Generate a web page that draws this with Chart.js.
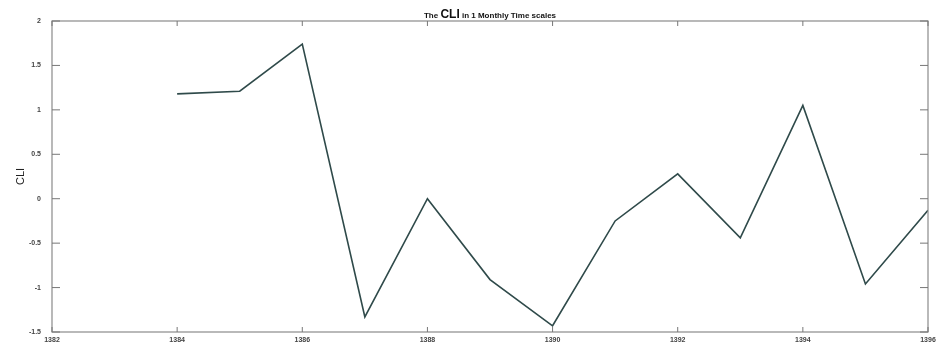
<!DOCTYPE html>
<html>
<head>
<meta charset="utf-8">
<script src="https://cdn.jsdelivr.net/npm/chart.js@4"></script>
<style>
  html, body { margin: 0; padding: 0; background: #fff; }
  #wrap { width: 941px; height: 345px; }
</style>
</head>
<body>
<div id="wrap"><canvas id="cliChart" width="941" height="345"></canvas></div>
<script>
// values
const years = [1384, 1385, 1386, 1387, 1388, 1389, 1390, 1391, 1392, 1393, 1394, 1395, 1396];
const cli = [1.18, 1.21, 1.74, -1.33, 0.0, -0.91, -1.43, -0.25, 0.28, -0.44, 1.05, -0.96, -0.13];
const xTicks = [1382, 1384, 1386, 1388, 1390, 1392, 1394, 1396];
const yTicks = [-1.5, -1, -0.5, 0, 0.5, 1, 1.5, 2];

const points = years.map(function (y, i) { return { x: y, y: cli[i] }; });

// matlab style box + inward ticks + mixed size title
const boxPlugin = {
    id: 'boxPlugin',
    afterDraw: function (chart) {
        const c = chart.ctx;
        const a = chart.chartArea;
        const xs = chart.scales.x, ys = chart.scales.y;
        c.save();
        c.strokeStyle = '#8a8a8a';
        c.lineWidth = 1.2;
        c.strokeRect(a.left, a.top, a.right - a.left, a.bottom - a.top);
        c.lineWidth = 1;
        c.strokeStyle = '#777';
        xTicks.forEach(function (t) {
            const px = xs.getPixelForValue(t);
            c.beginPath();
            c.moveTo(px, a.bottom); c.lineTo(px, a.bottom - 5);
            c.moveTo(px, a.top); c.lineTo(px, a.top + 5);
            c.stroke();
        });
        yTicks.forEach(function (t) {
            const py = ys.getPixelForValue(t);
            c.beginPath();
            c.moveTo(a.left, py); c.lineTo(a.left + 8, py);
            c.moveTo(a.right, py); c.lineTo(a.right - 8, py);
            c.stroke();
        });
        // title
        const parts = [
            { t: 'The ', f: 'bold 8px "Liberation Sans", Arial, sans-serif' },
            { t: 'CLI', f: 'bold 12px "Liberation Sans", Arial, sans-serif' },
            { t: ' in 1 Monthly Time scales', f: 'bold 8px "Liberation Sans", Arial, sans-serif' }
        ];
        let total = 0;
        parts.forEach(function (p) { c.font = p.f; p.w = c.measureText(p.t).width; total += p.w; });
        let x = (a.left + a.right) / 2 - total / 2;
        c.fillStyle = '#111';
        c.textBaseline = 'alphabetic';
        parts.forEach(function (p) { c.font = p.f; c.fillText(p.t, x, 18); x += p.w; });
        c.restore();
    }
};

const ctx = document.getElementById('cliChart').getContext('2d');
const cliChart = new Chart(ctx, {
    type: 'line',
    data: {
        datasets: [{
            label: 'CLI',
            data: points,
            borderColor: '#2f4a4a',
            borderWidth: 1.6,
            pointRadius: 0,
            fill: false,
            tension: 0
        }]
    },
    options: {
        responsive: false,
        animation: false,
        layout: { padding: { top: 21, right: 13, left: 14, bottom: 0 } },
        scales: {
            x: {
                type: 'linear',
                min: 1382,
                max: 1396,
                afterBuildTicks: function (s) { s.ticks = xTicks.map(function (v) { return { value: v }; }); },
                afterFit: function (s) { s.height = 13; s.paddingBottom = 0; },
                grid: { display: false, drawTicks: false },
                border: { display: false },
                ticks: {
                    padding: 4,
                    color: '#444',
                    font: { size: 7, family: '"Liberation Sans", Arial, sans-serif', weight: 'bold' },
                    maxRotation: 0,
                    callback: function (v) { return String(v); }
                }
            },
            y: {
                min: -1.5,
                max: 2,
                afterBuildTicks: function (s) { s.ticks = yTicks.map(function (v) { return { value: v }; }); },
                afterFit: function (s) { s.width = 38; s.paddingBottom = 0; s.paddingTop = 0; },
                grid: { display: false, drawTicks: false },
                border: { display: false },
                title: {
                    display: true,
                    text: 'CLI',
                    color: '#222',
                    padding: 0,
                    font: { size: 11, family: '"Liberation Sans", Arial, sans-serif' }
                },
                ticks: {
                    padding: 11,
                    color: '#444',
                    font: { size: 7, family: '"Liberation Sans", Arial, sans-serif', weight: 'bold' },
                    callback: function (v) { return String(v); }
                }
            }
        },
        plugins: {
            legend: { display: false },
            title: { display: false },
            tooltip: { enabled: false }
        }
    },
    plugins: [boxPlugin]
});
</script>
</body>
</html>
